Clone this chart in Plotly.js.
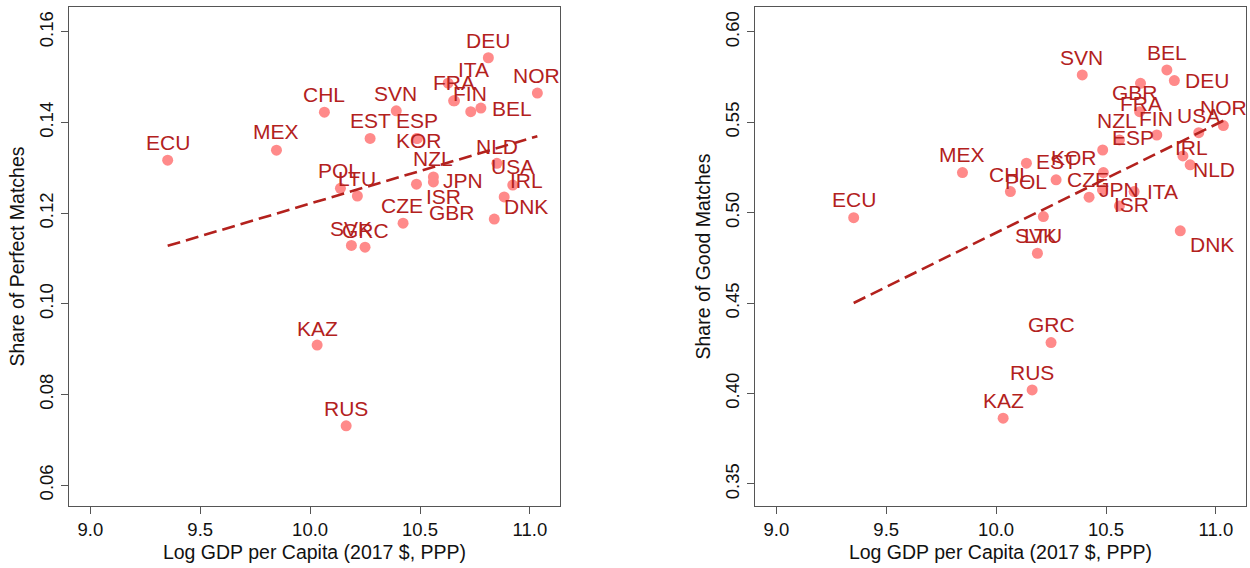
<!DOCTYPE html>
<html>
<head>
<meta charset="utf-8">
<script src="https://cdn.plot.ly/plotly-3.0.1.min.js"></script>
<style>
html,body{margin:0;padding:0;background:#fff;}
#chart{width:1250px;height:568px;}
</style>
</head>
<body>
<div id="chart"></div>
<script>
// ---- data ----
const countries = ["ECU","MEX","CHL","POL","LTU","SVK","GRC","KAZ","RUS","SVN","EST","CZE",
  "ESP","KOR","ISR","NZL","JPN","ITA","FRA","GBR","FIN","BEL","DEU","NOR","IRL","USA","NLD","DNK"];
const logGdp = [9.352,9.847,10.065,10.138,10.215,10.188,10.250,10.032,10.164,10.392,10.273,10.423,
  10.485,10.488,10.484,10.561,10.561,10.628,10.657,10.653,10.731,10.777,10.811,11.034,10.850,10.922,10.883,10.838];
const sharePerfect = [0.1317,0.1339,0.1423,0.1255,0.1238,0.1129,0.1125,0.0909,0.0731,0.1426,0.1365,0.1178,
  0.1365,0.1365,0.1264,0.1280,0.1269,0.1487,0.1448,0.1448,0.1424,0.1432,0.1543,0.1465,0.1310,0.1262,0.1236,0.1187];
const shareGood = [0.4973,0.5222,0.5117,0.5274,0.4979,0.4776,0.4282,0.3864,0.4020,0.5762,0.5182,0.5086,
  0.5347,0.5222,0.5126,0.5403,0.5038,0.5117,0.5716,0.5559,0.5430,0.5790,0.5731,0.5482,0.5314,0.5443,0.5265,0.4900];
// fitted lines (value at lowest and highest log GDP)
const fitPerfect = [0.1128, 0.1370];
const fitGood = [0.4501, 0.5509];

const xTickVals = [9.0, 9.5, 10.0, 10.5, 11.0];
const xTickText = ["9.0","9.5","10.0","10.5","11.0"];
const perfectTickVals = [0.06,0.08,0.10,0.12,0.14,0.16];
const perfectTickText = ["0.06","0.08","0.10","0.12","0.14","0.16"];
const goodTickVals = [0.35,0.40,0.45,0.50,0.55,0.60];
const goodTickText = ["0.35","0.40","0.45","0.50","0.55","0.60"];

// ---- label placement (pixel offsets of each label from its point) ----
const labelShiftPerfect = [[0,-17.5],[0,-18.5],[0,-17.5],[-1.5,-17.5],[-0.6,-17],[-0.7,-17],[0.8,-17],[0,-17],[0,-17.5],
  [-1,-17.5],[0,-17.5],[-0.8,-17.5],[0,-18.3],[1.8,1.7],[27.5,12.7],[-0.8,-18.4],[30,-1.7],[25.4,-13.3],[-0.3,-18.2],
  [-1.7,111.8],[-0.7,-18.4],[30.7,0],[0,-17],[-0.6,-17.5],[29.1,17.5],[0,-19],[-7.6,-50],[31.5,-12.3]];
const labelShiftGood = [[0,-17.7],[0,-18.5],[-0.7,-17.5],[-0.9,18.4],[0,19.1],[-1.6,-17.5],[0,-17.7],[0,-17.5],[0,-17.5],
  [-0.6,-17.6],[0,-18.3],[-1,-18.1],[30.3,-12.5],[-29,-15.2],[29.1,14.2],[-2.5,-19.2],[0,-16],[28.3,0],[0,20],
  [-5,-19.2],[-0.6,-16.7],[0,-17],[33,0],[0,-17.7],[8.4,-8.5],[0,-16.9],[23.5,5],[31.8,13.2]];
// leader line from a label to its point (left panel, POL), in pixels above the point
const leaderPerfect = {country: "POL", from: 5, to: 16};

// ---- styles ----
const FONT = "Liberation Sans, Arial, Helvetica, sans-serif";
const dotColor = "#FF8A8A";
const labColor = "#B3211D";
const axisColor = "#555555";

const xMin = Math.min(...logGdp), xMax = Math.max(...logGdp);

const traces = [
  {x: logGdp, y: sharePerfect, text: countries, type: "scatter", mode: "markers",
   marker: {color: dotColor, size: 11}, xaxis: "x", yaxis: "y", hoverinfo: "text+x+y"},
  {x: [xMin, xMax], y: fitPerfect, type: "scatter", mode: "lines",
   line: {color: labColor, width: 2.6, dash: "13px,6px"}, xaxis: "x", yaxis: "y", hoverinfo: "skip"},
  {x: logGdp, y: shareGood, text: countries, type: "scatter", mode: "markers",
   marker: {color: dotColor, size: 11}, xaxis: "x2", yaxis: "y2", hoverinfo: "text+x+y"},
  {x: [xMin, xMax], y: fitGood, type: "scatter", mode: "lines",
   line: {color: labColor, width: 2.6, dash: "13px,6px"}, xaxis: "x2", yaxis: "y2", hoverinfo: "skip"}
];

const annotations = [];
countries.forEach((c, i) => {
  annotations.push({x: logGdp[i], y: sharePerfect[i], xref: "x", yref: "y", text: c, showarrow: false,
    xshift: labelShiftPerfect[i][0], yshift: -labelShiftPerfect[i][1],
    font: {family: FONT, size: 21, color: labColor}});
  annotations.push({x: logGdp[i], y: shareGood[i], xref: "x2", yref: "y2", text: c, showarrow: false,
    xshift: labelShiftGood[i][0], yshift: -labelShiftGood[i][1],
    font: {family: FONT, size: 21, color: labColor}});
});

const li = countries.indexOf(leaderPerfect.country);
const shapes = [{type: "line", xref: "x", yref: "y", xsizemode: "pixel", ysizemode: "pixel",
  xanchor: logGdp[li], yanchor: sharePerfect[li], x0: 0, x1: 0, y0: leaderPerfect.from, y1: leaderPerfect.to,
  line: {color: labColor, width: 1.3}}];

function xAxis(domain, anchor) {
  return {domain: domain, anchor: anchor, range: [8.903, 11.137], tickvals: xTickVals, ticktext: xTickText,
    ticks: "outside", ticklen: 7, tickwidth: 1.2, tickcolor: axisColor,
    showline: true, mirror: true, linecolor: axisColor, linewidth: 1.3,
    showgrid: false, zeroline: false, tickfont: {family: FONT, size: 18.5, color: "#111"},
    title: {text: "Log GDP per Capita (2017 $, PPP)", font: {family: FONT, size: 19.5, color: "#111"}, standoff: 6},
    automargin: false};
}
function yAxis(domain, anchor, range, vals, txt, title) {
  return {domain: domain, anchor: anchor, range: range, tickvals: vals, ticktext: txt, tickangle: -90,
    ticks: "outside", ticklen: 7, tickwidth: 1.2, tickcolor: axisColor,
    showline: true, mirror: true, linecolor: axisColor, linewidth: 1.3,
    showgrid: false, zeroline: false, tickfont: {family: FONT, size: 18.5, color: "#111"},
    title: {text: title, font: {family: FONT, size: 19.5, color: "#111"}, standoff: 6},
    automargin: false};
}

const yDom = [1 - 506/568, 1 - 7/568];
const layout = {
  width: 1250, height: 568, margin: {l: 0, r: 0, t: 0, b: 0},
  paper_bgcolor: "#fff", plot_bgcolor: "#fff", showlegend: false,
  xaxis: xAxis([69/1250, 560/1250], "y"),
  yaxis: yAxis(yDom, "x", [0.0554, 0.1655], perfectTickVals, perfectTickText, "Share of Perfect Matches"),
  xaxis2: xAxis([755/1250, 1246/1250], "y2"),
  yaxis2: yAxis(yDom, "x2", [0.3378, 0.6138], goodTickVals, goodTickText, "Share of Good Matches"),
  annotations: annotations,
  shapes: shapes
};

Plotly.newPlot("chart", traces, layout, {displayModeBar: false});
</script>
</body>
</html>
